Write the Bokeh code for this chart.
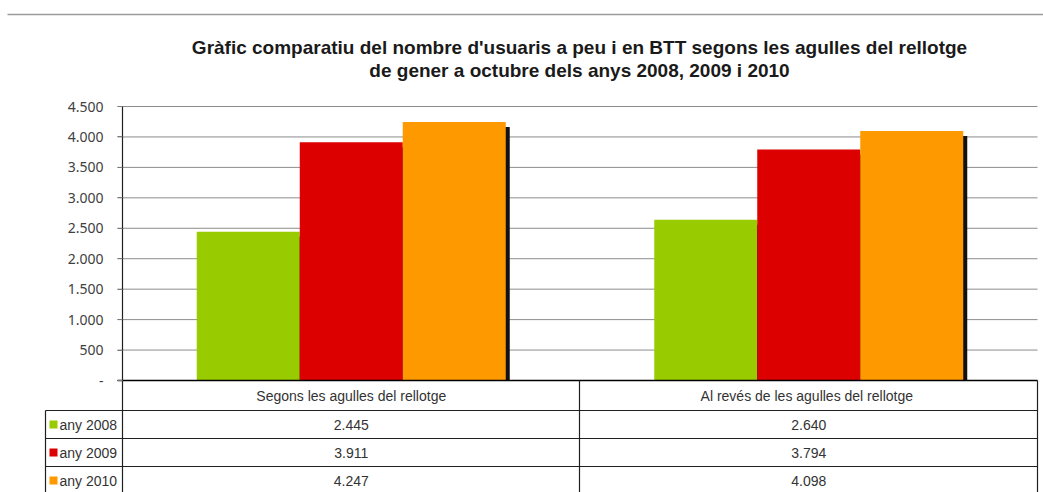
from bokeh.plotting import figure
from bokeh.models import Range1d, FixedTicker, ColumnDataSource
from bokeh.core.properties import value
from bokeh.embed import file_html
from bokeh.resources import INLINE

# ---------------- data ----------------
categories = ["Segons les agulles del rellotge", "Al revés  de les agulles del rellotge"]
series_names = ["any 2008", "any 2009", "any 2010"]
any_2008 = [2445, 2640]
any_2009 = [3911, 3794]
any_2010 = [4247, 4098]
y_ticks = [0, 500, 1000, 1500, 2000, 2500, 3000, 3500, 4000, 4500]
title_lines = ["Gràfic comparatiu del nombre d'usuaris a peu i en BTT segons les agulles del rellotge",
               "de gener a octubre dels anys 2008, 2009 i 2010"]

series_values = [any_2008, any_2009, any_2010]
colors = ["#99CC00", "#DD0000", "#FF9900"]

FONT = "Liberation Sans"

def fmt(v):
    return "-" if v == 0 else f"{v:,}".replace(",", ".")

# ---------------- layout constants (page pixels) ----------------
W, H = 1043, 492
FRAME_L, FRAME_R = 122, 1037
FRAME_T, BASE = 106, 380
Y_MAX = y_ticks[-1]
ppu_y = (BASE - FRAME_T) / Y_MAX          # px per value unit
ppu_x = (FRAME_R - FRAME_L) / len(categories)

def py(page_y):
    return (BASE - page_y) / ppu_y

def px(page_x):
    return (page_x - FRAME_L) / ppu_x

p = figure(width=W, height=H, output_backend="svg", toolbar_location=None,
           x_range=Range1d(px(0), px(W)), y_range=Range1d(py(H), py(0)),
           x_axis_location=None,
           min_border_left=0, min_border_right=0, min_border_top=0, min_border_bottom=0)
p.background_fill_color = "white"
p.border_fill_color = "white"
p.outline_line_color = None
p.xgrid.visible = False
p.ygrid.visible = False

cat_x = [i + 0.5 for i in range(len(categories))]

# top separator line
p.segment(x0=[px(7)], y0=[py(14)], x1=[px(W)], y1=[py(14)], line_color="#9a9a9a", line_width=1.5)

# title (two centred lines)
title_y = [py(47), py(70)]
p.text(x=[px(579)] * 2, y=title_y, text=title_lines, text_align="center", text_baseline="middle",
       text_font=value(FONT), text_font_size="19px", text_font_style="bold", text_color="#1a1a1a")

# gridlines
p.segment(x0=[px(117)] * len(y_ticks), y0=y_ticks, x1=[px(FRAME_R)] * len(y_ticks), y1=y_ticks,
          line_color="#8c8c8c", line_width=1)

# y axis placed at the left edge of the plotting area
ax = p.yaxis[0]
ax.fixed_location = 0
ax.bounds = (py(494), Y_MAX)
ax.ticker = FixedTicker(ticks=y_ticks)
ax.major_label_overrides = {t: fmt(t) for t in y_ticks}
ax.major_tick_in = 0
ax.major_tick_out = 5
ax.minor_tick_line_color = None
ax.major_tick_line_color = "#7a7a7a"
ax.axis_line_color = "#202020"
ax.axis_line_width = 1.2
ax.major_label_standoff = 14
ax.major_label_text_font = "Noto Sans"
ax.major_label_text_font_size = "14px"
ax.major_label_text_color = "#404040"

# bars with a dark drop shadow
bar_w = 103 / ppu_x
offsets = [-bar_w, 0, bar_w]
sdx = 4 / ppu_x
sdy = 5 / ppu_y
for vals, off in zip(series_values, offsets):
    src = ColumnDataSource(dict(x=[c + off + sdx for c in cat_x], top=[v - sdy for v in vals]))
    p.vbar(x="x", top="top", bottom=0, width=bar_w, source=src, fill_color="#111111", line_color=None)
for vals, off, col in zip(series_values, offsets, colors):
    src = ColumnDataSource(dict(x=[c + off for c in cat_x], top=vals))
    p.vbar(x="x", top="top", bottom=0, width=bar_w, source=src, fill_color=col, line_color=None)

# ---------------- data table below the chart ----------------
row_edges = [BASE, 410, 438, 466, 494]
x_left, x_mid, x_right, x_key = 0, px(579), px(FRAME_R), px(45)
LC = "#202020"
# baseline
p.segment(x0=[px(117)], y0=[0], x1=[x_right], y1=[0], line_color="#000000", line_width=1.3)
# horizontal row lines (data rows extend into the legend column)
hy = [py(v) for v in row_edges[1:]]
p.segment(x0=[x_key] * len(hy), y0=hy, x1=[x_right] * len(hy), y1=hy, line_color=LC, line_width=1.2)
# vertical lines
p.segment(x0=[x_mid, x_right], y0=[0, 0], x1=[x_mid, x_right], y1=[py(494)] * 2,
          line_color=LC, line_width=1.2)
p.segment(x0=[x_key], y0=[py(row_edges[1])], x1=[x_key], y1=[py(494)], line_color=LC, line_width=1.2)

# header and values
row_centers = [(row_edges[i] + row_edges[i + 1]) / 2 for i in range(len(row_edges) - 1)]
p.text(x=cat_x, y=[py(row_centers[0])] * len(cat_x), text=categories,
       text_align="center", text_baseline="middle", text_font=value(FONT),
       text_font_size="14px", text_color="#333333")
for i, vals in enumerate(series_values):
    p.text(x=cat_x, y=[py(row_centers[i + 1])] * len(cat_x), text=[fmt(v) for v in vals],
           text_align="center", text_baseline="middle", text_font=value(FONT),
           text_font_size="14px", text_color="#333333")

# legend keys and names
key_y = [py(c) for c in row_centers[1:]]
p.rect(x=[px(53)] * len(series_names), y=key_y, width=8 / ppu_x, height=8 / ppu_y,
       fill_color=colors, line_color=None)
p.text(x=[px(59)] * len(series_names), y=key_y, text=series_names, text_align="left",
       text_baseline="middle", text_font=value(FONT), text_font_size="14px", text_color="#333333")

open("out.html", "w").write(file_html(p, INLINE))
